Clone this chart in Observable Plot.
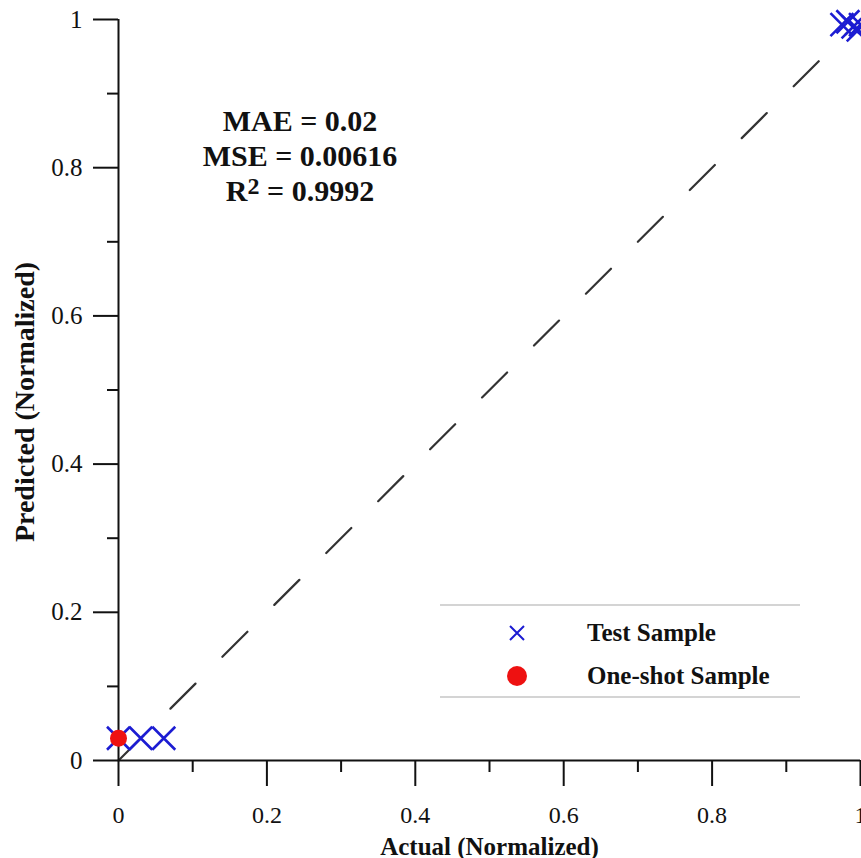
<!DOCTYPE html>
<html>
<head>
<meta charset="utf-8">
<script src="https://cdn.jsdelivr.net/npm/d3@7"></script>
<script src="https://cdn.jsdelivr.net/npm/@observablehq/plot@0.6"></script>
<style>
  html, body { margin: 0; padding: 0; background: #fff; }
  #wrap { position: relative; width: 861px; height: 858px; overflow: hidden; font-family: "Liberation Serif", "Times New Roman", serif; color: #111; }
  #stats { position: absolute; left: 150px; top: 103px; width: 300px; text-align: center; font-weight: bold; font-size: 30px; line-height: 35px; }
  #stats sup { font-size: 0.8em; vertical-align: 0; position: relative; top: -0.3em; }
  #legend { position: absolute; left: 440px; top: 604px; width: 360px; height: 90px; border-top: 2px solid #d4d4d4; border-bottom: 2px solid #d4d4d4; }
  .lrow { position: absolute; left: 0; height: 30px; display: flex; align-items: center; }
  .lrow span { position: absolute; left: 147px; white-space: nowrap; font-weight: bold; font-size: 25px; }
  .lrow svg { position: absolute; left: 62px; }
</style>
</head>
<body>
<div id="wrap"></div>
<script>
// Data
const testActual      = [0.0, 0.030, 0.061, 0.975, 0.983, 0.990, 0.997, 1.0];
const testPredicted   = [0.030, 0.030, 0.030, 0.993, 0.997, 0.990, 0.986, 0.993];
const oneShotActual    = [0.0];
const oneShotPredicted = [0.030];
const identityLine = [0, 1];
const majorTicks = [0, 0.2, 0.4, 0.6, 0.8, 1];
const minorTicks = [0.1, 0.3, 0.5, 0.7, 0.9];
const tickLabels = ["0", "0.2", "0.4", "0.6", "0.8", "1"];
const xTitle = "Actual (Normalized)";
const yTitle = "Predicted (Normalized)";
const statsLines = [["MAE = 0.02"], ["MSE = 0.00616"], ["R", "2", " = 0.9992"]];
const seriesNames = ["Test Sample", "One-shot Sample"];
const seriesColors = ["#1c1cd2", "#ee1111"];

const test = testActual.map((a, i) => ({actual: a, predicted: testPredicted[i]}));
const oneShot = oneShotActual.map((a, i) => ({actual: a, predicted: oneShotPredicted[i]}));
const fmt = d => tickLabels[majorTicks.findIndex(t => Math.abs(t - d) < 1e-9)];

const chart = Plot.plot({
  width: 861,
  height: 858,
  marginLeft: 118,
  marginRight: 1,
  marginTop: 19,
  marginBottom: 98,
  x: {domain: [0, 1]},
  y: {domain: [0, 1]},
  style: {fontFamily: '"Liberation Serif", "Times New Roman", serif', background: "#fff", color: "#111", overflow: "hidden"},
  marks: [
    Plot.line(identityLine, {x: d => d, y: d => d, stroke: "#333", strokeWidth: 2.2, strokeDasharray: "35.4,38"}),
    Plot.ruleY([0], {stroke: "#111", strokeWidth: 2}),
    Plot.ruleX([0], {stroke: "#111", strokeWidth: 2}),
    Plot.axisX({ticks: majorTicks, tickSize: 26, tickPadding: 19, tickFormat: fmt, fontSize: 24, strokeWidth: 2, label: null}),
    Plot.axisX({ticks: minorTicks, tickSize: 12, tickFormat: () => "", strokeWidth: 2, label: null}),
    Plot.axisY({ticks: majorTicks, tickSize: 25, tickPadding: 11, tickFormat: fmt, fontSize: 25, strokeWidth: 2, label: null}),
    Plot.axisY({ticks: minorTicks, tickSize: 11, tickFormat: () => "", strokeWidth: 2, label: null}),
    Plot.text([xTitle], {frameAnchor: "bottom", lineAnchor: "middle", textAnchor: "middle", dy: 86, fontSize: 25, fontWeight: "bold", fill: "#111"}),
    Plot.text([yTitle], {frameAnchor: "left", lineAnchor: "middle", textAnchor: "middle", rotate: -90, dx: -93, dy: 12, fontSize: 28, fontWeight: "bold", fill: "#111"}),
    Plot.dot(test, {x: "actual", y: "predicted", symbol: "times", r: 10.5, stroke: seriesColors[0], strokeWidth: 2.6}),
    Plot.dot(oneShot, {x: "actual", y: "predicted", r: 8.5, fill: seriesColors[1], stroke: "none"})
  ]
});

const wrap = document.getElementById("wrap");
wrap.appendChild(chart);

// statistics annotation
const stats = document.createElement("div");
stats.id = "stats";
stats.innerHTML = statsLines.map(l => l.length === 1 ? `<div>${l[0]}</div>` : `<div>${l[0]}<sup>${l[1]}</sup>${l[2]}</div>`).join("");
wrap.appendChild(stats);

// legend
const legend = document.createElement("div");
legend.id = "legend";
const rowTops = [12, 55];
seriesNames.forEach((name, i) => {
  const row = document.createElement("div");
  row.className = "lrow";
  row.style.top = rowTops[i] + "px";
  const sym = i === 0
    ? `<svg width="30" height="30" viewBox="-15 -15 30 30"><path d="M-7,-7L7,7M-7,7L7,-7" stroke="${seriesColors[0]}" stroke-width="2" fill="none"/></svg>`
    : `<svg width="30" height="30" viewBox="-15 -15 30 30"><circle r="10" fill="${seriesColors[1]}"/></svg>`;
  row.innerHTML = sym + `<span>${name}</span>`;
  legend.appendChild(row);
});
wrap.appendChild(legend);
</script>
</body>
</html>
